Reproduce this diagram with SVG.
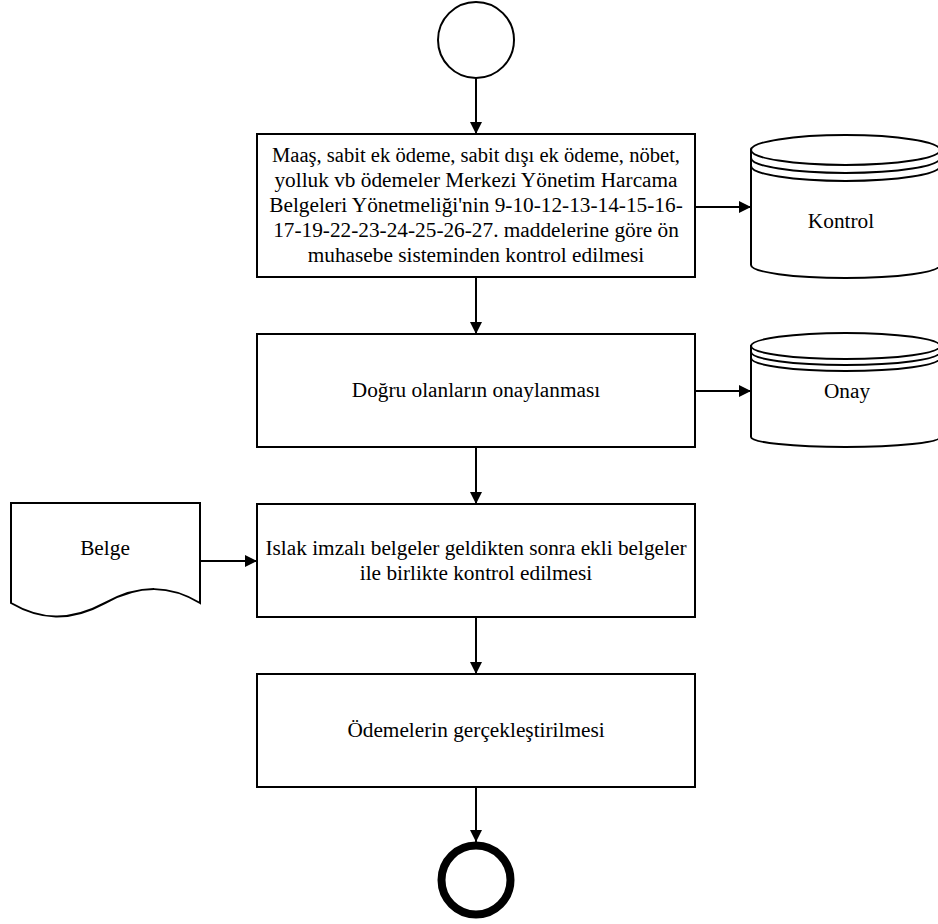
<svg xmlns="http://www.w3.org/2000/svg" width="938" height="924" viewBox="0 0 938 924">
<style>
.s{fill:#fff;stroke:#000;stroke-width:2}
.n{fill:none;stroke:#000;stroke-width:2}
text{font-family:'Liberation Serif','Times New Roman',serif;font-size:21.3px;fill:#000;text-anchor:middle}
.c{fill:none;stroke:#000;stroke-width:2}
</style>
<defs>
<marker id="ah" markerWidth="12" markerHeight="12" refX="12" refY="6" orient="auto" markerUnits="userSpaceOnUse">
<path d="M0,0 L12,6 L0,12 Z" fill="#000"/>
</marker>
</defs>
<rect width="938" height="924" fill="#fff"/>
<g id="connectors">
<line class="c" x1="476" y1="78" x2="476" y2="134" marker-end="url(#ah)"/>
<line class="c" x1="695" y1="207" x2="751" y2="207" marker-end="url(#ah)"/>
<line class="c" x1="476" y1="277" x2="476" y2="334" marker-end="url(#ah)"/>
<line class="c" x1="695" y1="391" x2="751" y2="391" marker-end="url(#ah)"/>
<line class="c" x1="476" y1="447" x2="476" y2="504" marker-end="url(#ah)"/>
<line class="c" x1="200" y1="561" x2="257" y2="561" marker-end="url(#ah)"/>
<line class="c" x1="476" y1="617" x2="476" y2="674" marker-end="url(#ah)"/>
<line class="c" x1="476" y1="787" x2="476" y2="842" marker-end="url(#ah)"/>
</g>
<g id="start">
<circle class="s" cx="476" cy="40" r="38"/>
</g>
<g id="box1">
<rect class="s" x="257" y="134" width="438" height="143"/>
<text x="476" y="162" textLength="408" lengthAdjust="spacingAndGlyphs">Maaş, sabit ek ödeme, sabit dışı ek ödeme, nöbet,</text>
<text x="476" y="187">yolluk vb ödemeler Merkezi Yönetim Harcama</text>
<text x="476" y="212">Belgeleri Yönetmeliği'nin 9-10-12-13-14-15-16-</text>
<text x="476" y="237">17-19-22-23-24-25-26-27. maddelerine göre ön</text>
<text x="476" y="262">muhasebe sisteminden kontrol edilmesi</text>
</g>
<g id="kontrol">
<path class="s" d="M751,150 V265 A94.5,13 0 0 0 940,265 V150 Z"/>
<ellipse class="s" cx="845.5" cy="150" rx="94.5" ry="15"/>
<path class="n" d="M751,158 A94.5,15 0 0 0 940,158"/>
<path class="n" d="M751,166 A94.5,15 0 0 0 940,166"/>
<text x="841" y="228">Kontrol</text>
</g>
<g id="box2">
<rect class="s" x="257" y="334" width="438" height="113"/>
<text x="476" y="397">Doğru olanların onaylanması</text>
</g>
<g id="onay">
<path class="s" d="M751,346 V437 A94.5,10 0 0 0 940,437 V346 Z"/>
<ellipse class="s" cx="845.5" cy="346" rx="94.5" ry="13"/>
<path class="n" d="M751,352 A94.5,13 0 0 0 940,352"/>
<path class="n" d="M751,358 A94.5,13 0 0 0 940,358"/>
<text x="847" y="398">Onay</text>
</g>
<g id="belge">
<path class="s" d="M11,503 H200 V603 C170,585 140,584 105,603 C70,622 40,620 11,603 Z"/>
<text x="105" y="555">Belge</text>
</g>
<g id="box3">
<rect class="s" x="257" y="504" width="438" height="113"/>
<text x="476" y="555">Islak imzalı belgeler geldikten sonra ekli belgeler</text>
<text x="476" y="580">ile birlikte kontrol edilmesi</text>
</g>
<g id="box4">
<rect class="s" x="257" y="674" width="438" height="113"/>
<text x="476" y="737">Ödemelerin gerçekleştirilmesi</text>
</g>
<g id="end">
<circle cx="476" cy="880" r="34.5" fill="#fff" stroke="#000" stroke-width="8"/>
</g>
</svg>
